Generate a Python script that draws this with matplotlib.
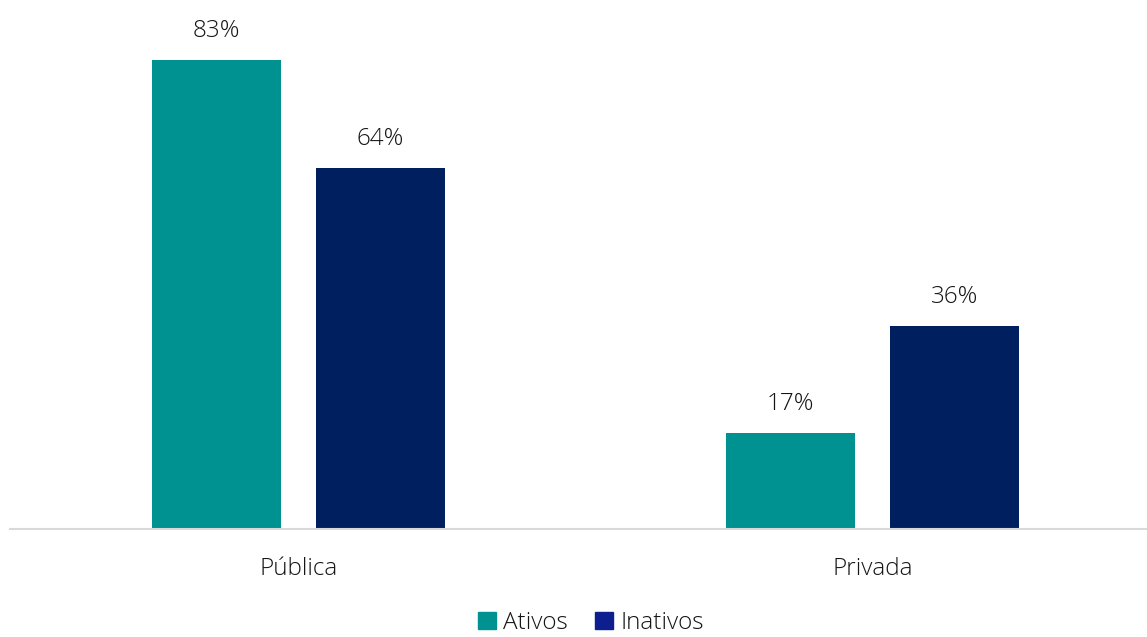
import matplotlib.pyplot as plt
import numpy as np
from matplotlib.patches import Patch

categories = ["Pública", "Privada"]
ativos = [83, 17]
inativos = [64, 36]

teal = "#009191"
navy = "#001f5f"
legend_navy = "#0d1f8f"
text_color = "#141414"

plt.rcParams['font.family'] = ['Open Sans', 'DejaVu Sans']
plt.rcParams['font.weight'] = 'light'

fig = plt.figure(figsize=(11.47, 6.37), dpi=100)
ax = fig.add_axes([0.0087, 0.1695, 1.0026, 0.798])

x = np.arange(len(categories))
width = 0.2243
offset = 0.1426

b1 = ax.bar(x - offset, ativos, width, color=teal)
b2 = ax.bar(x + offset, inativos, width, color=navy)

# value labels above each bar
for bars, vals in ((b1, ativos), (b2, inativos)):
    for rect, v in zip(bars, vals):
        ax.text(rect.get_x() + rect.get_width() / 2, v + 3.0, f"{v}%",
                ha='center', va='bottom', fontsize=17.5, color=text_color)

ax.set_xlim(-0.502, 1.5)
ax.set_ylim(0, 90)
ax.set_xticks(x)
ax.set_xticklabels(categories, fontsize=17.5, color=text_color)
ax.tick_params(axis='x', length=0, pad=20)
ax.set_yticks([])
for side in ('top', 'right', 'left'):
    ax.spines[side].set_visible(False)
ax.spines['bottom'].set_color('#d9d9d9')
ax.spines['bottom'].set_linewidth(1.5)

handles = [Patch(color=teal, label='Ativos'), Patch(color=legend_navy, label='Inativos')]
fig.legend(handles=handles, loc='center', bbox_to_anchor=(0.515, 0.022), ncol=2,
           frameon=False, fontsize=17.5, handlelength=0.75, handleheight=0.75,
           handletextpad=0.3, columnspacing=1.1, labelcolor=text_color,
           borderpad=0.1)

fig.savefig("out.png", dpi=100)
